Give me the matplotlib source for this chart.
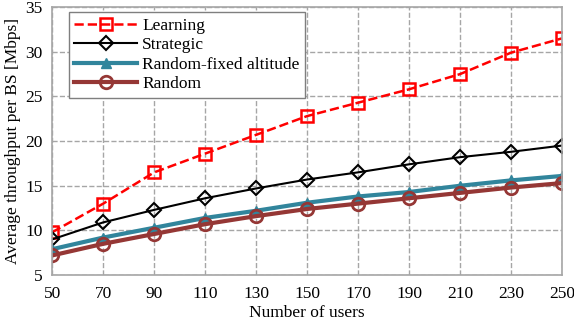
import matplotlib.pyplot as plt

# Data
users = [50, 70, 90, 110, 130, 150, 170, 190, 210, 230, 250]
learning = [9.8, 13.0, 16.5, 18.6, 20.7, 22.8, 24.3, 25.8, 27.5, 29.9, 31.5]
strategic = [9.0, 10.9, 12.3, 13.6, 14.7, 15.7, 16.5, 17.4, 18.2, 18.8, 19.5]
random_fixed = [7.9, 9.2, 10.3, 11.4, 12.2, 13.1, 13.8, 14.3, 15.0, 15.6, 16.1]
random_ = [7.2, 8.5, 9.6, 10.7, 11.6, 12.4, 13.0, 13.6, 14.2, 14.8, 15.3]

plt.rcParams['font.family'] = ['Liberation Serif', 'DejaVu Serif']

fig = plt.figure(figsize=(5.74, 3.24), dpi=100)
ax = fig.add_axes([0.091, 0.151, 0.888, 0.827])

ax.plot(users, learning, color='#FF0000', linestyle='--', linewidth=1.8, marker='s',
        markersize=9, markerfacecolor='none', markeredgewidth=1.8, label='Learning')
ax.plot(users, strategic, color='black', linewidth=1.5, marker='D',
        markersize=7, markerfacecolor='none', markeredgewidth=1.5, label='Strategic')
ax.plot(users, random_fixed, color='#31859C', linewidth=3, marker='^',
        markersize=7, markerfacecolor='#31859C', label='Random-fixed altitude')
ax.plot(users, random_, color='#953735', linewidth=3, marker='o',
        markersize=9, markerfacecolor='none', markeredgewidth=2, label='Random')

ax.set_xlim(50, 250)
ax.set_ylim(5, 35)
ax.set_xticks(users)
ax.set_yticks(range(5, 36, 5))
ax.grid(True, linestyle='--', color='#A6A6A6', linewidth=1)
for s in ax.spines.values():
    s.set_color('#A6A6A6')
    s.set_linewidth(1.2)
ax.tick_params(axis='x', length=0, labelsize=12.5, pad=8)
ax.tick_params(axis='y', length=0, labelsize=12.5, pad=7)

ax.set_xlabel('Number of users', fontsize=12.5, labelpad=2)
ax.set_ylabel('Average throughput per BS [Mbps]', fontsize=12.5, labelpad=3)

leg = ax.legend(loc='upper left', bbox_to_anchor=(0.033, 0.981), fontsize=12.5, fancybox=False,
                framealpha=1, handlelength=3.6, borderpad=0.3, labelspacing=0.2,
                handletextpad=0.3, borderaxespad=0)
leg.get_frame().set_edgecolor('#7F7F7F')

plt.savefig('out.png')
